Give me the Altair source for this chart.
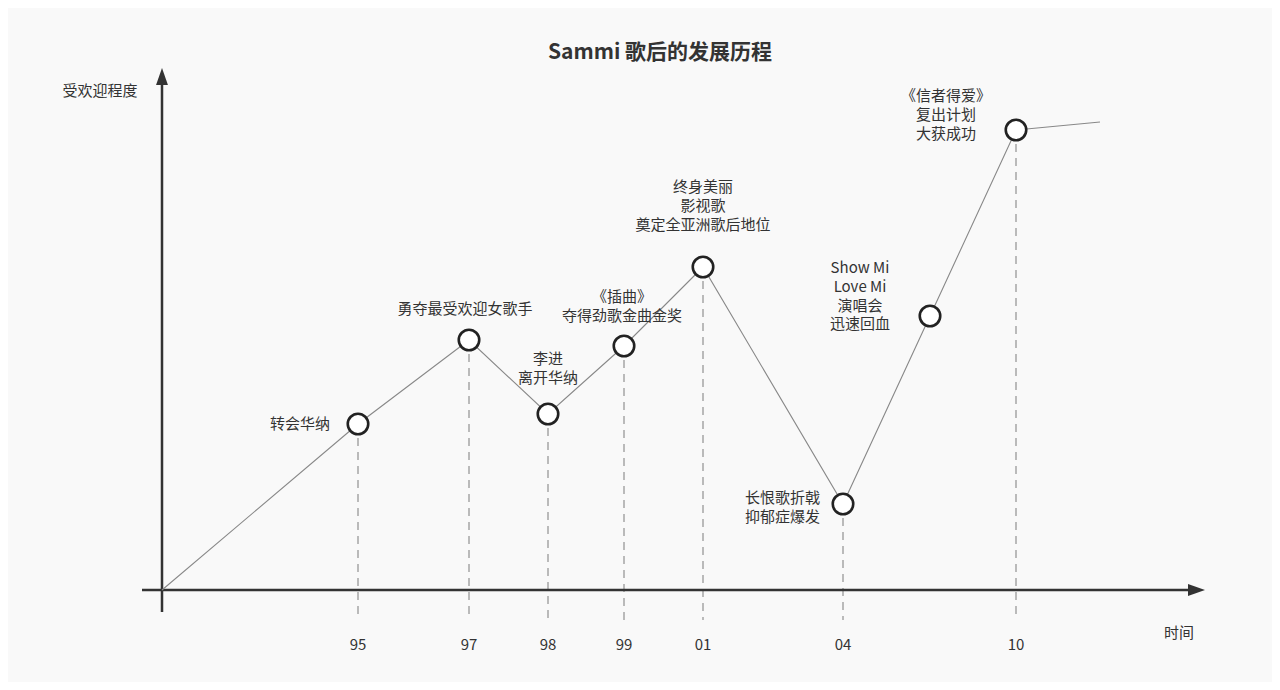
import altair as alt
import pandas as pd

# ---- data (time position, popularity) ----
x_pos = [0, 19.6, 30.7, 38.6, 46.2, 54.1, 68.1, 76.8, 85.4, 93.8]
popularity = [0, 16.6, 25.0, 17.6, 24.4, 32.3, 8.6, 27.4, 46.0, 46.8]
year_labels = ["", "95", "97", "98", "99", "01", "04", "", "10", ""]
events = ["", "转会华纳", "勇夺最受欢迎女歌手", "李进\n离开华纳",
          "《插曲》\n夺得劲歌金曲金奖", "终身美丽\n影视歌\n奠定全亚洲歌后地位",
          "长恨歌折戟\n抑郁症爆发", "Show Mi\nLove Mi\n演唱会\n迅速回血",
          "《信者得爱》\n复出计划\n大获成功", ""]
x_axis_extent = [-2.0, 103.0]
y_axis_extent = [-2.2, 51.0]
arrow_x_tip = [103.45]
arrow_y_tip = [51.35]
rule_bottom = -3.0

FONT = "Noto Sans CJK SC"
XS = alt.Scale(domain=[-15.4, 111.0], nice=False, zero=False)
YS = alt.Scale(domain=[-9.2, 58.2], nice=False, zero=False)

df = pd.DataFrame({"x": x_pos, "y": popularity, "year": year_labels, "event": events,
                   "i": list(range(len(x_pos)))})
df["y0"] = rule_bottom

base = alt.Chart(df)
X = alt.X("x:Q", scale=XS, axis=None)
Y = alt.Y("y:Q", scale=YS, axis=None)

# axes
xaxis = alt.Chart(pd.DataFrame({"x": [x_axis_extent[0]], "x2": [x_axis_extent[1]], "y": [0]})).mark_rule(
    color="#333333", strokeWidth=2.5).encode(x=alt.X("x:Q", scale=XS, axis=None), x2="x2:Q", y=alt.Y("y:Q", scale=YS, axis=None))
yaxis = alt.Chart(pd.DataFrame({"x": [0], "y": [y_axis_extent[0]], "y2": [y_axis_extent[1]]})).mark_rule(
    color="#333333", strokeWidth=2.5).encode(x=alt.X("x:Q", scale=XS, axis=None), y=alt.Y("y:Q", scale=YS, axis=None), y2="y2:Q")
arrow_r = alt.Chart(pd.DataFrame({"x": arrow_x_tip, "y": [0]})).mark_point(
    shape="M1,0L-1,-0.7L-1,0.7Z", size=289, filled=True, color="#333333", opacity=1).encode(
    x=alt.X("x:Q", scale=XS, axis=None), y=alt.Y("y:Q", scale=YS, axis=None))
arrow_u = alt.Chart(pd.DataFrame({"x": [0], "y": arrow_y_tip})).mark_point(
    shape="M0,-1L-0.7,1L0.7,1Z", size=289, filled=True, color="#333333", opacity=1).encode(
    x=alt.X("x:Q", scale=XS, axis=None), y=alt.Y("y:Q", scale=YS, axis=None))

# dashed drop lines
drops = base.transform_filter("datum.year != ''").mark_rule(
    color="#999999", strokeWidth=1.3, strokeDash=[8, 6]).encode(x=X, y=Y, y2="y0:Q")

line = base.mark_line(color="#888888", strokeWidth=1.1).encode(x=X, y=Y, order="i:Q")

circles = base.transform_filter("datum.event != ''").mark_point(
    shape="circle", size=420, filled=True, fill="white", stroke="#222222", strokeWidth=2.6, opacity=1).encode(x=X, y=Y)

ticks = base.transform_filter("datum.year != ''").mark_text(
    font=FONT, fontSize=15, color="#333333", baseline="middle").encode(
    x=X, y=alt.value(637), text="year:N")

# event labels: (dx, dy of first line, align)
offsets = {1: (-28, 0, "right"), 2: (-4, -31, "center"), 3: (0, -55, "center"),
           4: (-2, -49, "center"), 5: (0, -80, "center"), 6: (-23, -6, "right"),
           7: (-70, -48, "center"), 8: (-70, -34, "center")}
labels = []
for i, (dx, dy, al) in offsets.items():
    labels.append(base.transform_filter(f"datum.i == {i}").mark_text(
        font=FONT, fontSize=15, color="#333333", align=al, baseline="middle",
        lineBreak="\n", lineHeight=18.8, dx=dx, dy=dy).encode(x=X, y=Y, text="event:N"))

static = pd.DataFrame({"t": ["Sammi 歌后的发展历程"]})
title = alt.Chart(static).mark_text(font=FONT, fontSize=21, fontWeight="bold", color="#333333",
                                    baseline="middle").encode(x=alt.value(652), y=alt.value(45), text="t:N")
ylab = alt.Chart(pd.DataFrame({"t": ["受欢迎程度"]})).mark_text(font=FONT, fontSize=15, color="#333333",
                                    baseline="middle").encode(x=alt.value(92), y=alt.value(83), text="t:N")
xlab = alt.Chart(pd.DataFrame({"t": ["时间"]})).mark_text(font=FONT, fontSize=15, color="#333333",
                                    baseline="middle").encode(x=alt.value(1171), y=alt.value(625), text="t:N")

chart = alt.layer(drops, xaxis, yaxis, arrow_r, arrow_u, line, circles, ticks, *labels, title, ylab, xlab).properties(
    width=1264, height=674, padding=0,
    autosize=alt.AutoSizeParams(type="fit", contains="padding"),
    background="#f9f9f9",
).configure_view(stroke=None)

chart.save("out.html", embed_options={"renderer": "svg", "actions": False})
